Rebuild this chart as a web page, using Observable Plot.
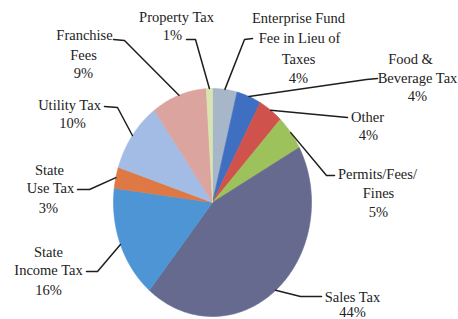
<!DOCTYPE html>
<html>
<head>
<meta charset="utf-8">
<script src="https://cdn.jsdelivr.net/npm/d3@7"></script>
<script src="https://cdn.jsdelivr.net/npm/@observablehq/plot@0.6"></script>
<style>
  html, body { margin: 0; padding: 0; background: #fff; }
  #chart svg { display: block; }
  #chart svg text { font-family: "Liberation Serif", "Times New Roman", serif !important; }
</style>
</head>
<body>
<div id="chart"></div>
<script>
// ---- data (clockwise from 12 o'clock) ----
const categories = [
  "Enterprise Fund Fee in Lieu of Taxes",
  "Food & Beverage Tax",
  "Other",
  "Permits/Fees/Fines",
  "Sales Tax",
  "State Income Tax",
  "State Use Tax",
  "Utility Tax",
  "Franchise Fees",
  "Property Tax"
];
const values = [4, 4, 4, 5, 44, 16, 3, 10, 9, 1];
const labelLines = [
  ["Enterprise Fund", "Fee in Lieu of", "Taxes"],
  ["Food &", "Beverage Tax"],
  ["Other"],
  ["Permits/Fees/", "Fines"],
  ["Sales Tax"],
  ["State", "Income Tax"],
  ["State", "Use Tax"],
  ["Utility Tax"],
  ["Franchise", "Fees"],
  ["Property Tax"]
];

// ---- styling / layout (pixels) ----
const colors = ["#a8b6ca", "#3f6fc1", "#cf524c", "#9dc15b", "#666a8f",
                "#4e95d5", "#de7945", "#a3bce6", "#dca49f", "#d8e5ae"];
const W = 458, H = 319;
const cx = 212, cy = 202, rx = 99, ry = 114;
const textPos = [
  [[298, 22], [299, 42], [298, 63], [298, 82]],
  [[410, 63], [417, 82], [417, 100]],
  [[367, 121], [368, 139]],
  [[377, 178], [378, 197], [378, 216]],
  [[352, 301], [352, 316]],
  [[48, 256], [48, 274], [48, 294]],
  [[49, 174], [50, 192], [48, 212]],
  [[69, 109], [72, 127]],
  [[84, 39], [83, 59], [83, 77]],
  [[176, 21], [172, 39]]
];
const leaderPath = [
  [[252, 38], [244, 39]],
  [[377, 78], [366, 79]],
  [[347, 117]],
  [[334, 175], [326, 175]],
  [[321, 296], [300, 296]],
  [[86, 271], [97, 271]],
  [[77, 189], [89, 189]],
  [[104, 106], [117, 107]],
  [[113, 39], [124, 40]],
  [[186, 39], [195, 39]]
];

const nx = px => (px - cx) / rx;
const ny = py => (cy - py) / ry;

const total = d3.sum(values);
const slicePts = [];
const mids = [];
let acc = 0;
values.forEach((v, i) => {
  const a0 = acc / total * 2 * Math.PI;
  acc += v;
  const a1 = acc / total * 2 * Math.PI;
  mids.push((a0 + a1) / 2);
  slicePts.push({cat: categories[i], x: 0, y: 0});
  const n = Math.max(2, Math.ceil((a1 - a0) / (Math.PI / 180)));
  for (let k = 0; k <= n; k++) {
    const a = a0 + (a1 - a0) * k / n;
    slicePts.push({cat: categories[i], x: Math.sin(a), y: Math.cos(a)});
  }
  slicePts.push({cat: categories[i], x: 0, y: 0});
});

const textRows = [];
categories.forEach((c, i) => {
  const lines = [...labelLines[i], `${values[i]}%`];
  lines.forEach((t, j) => {
    const [px, py] = textPos[i][j];
    textRows.push({text: t, x: nx(px), y: ny(py)});
  });
});

const leaderRows = [];
categories.forEach((c, i) => {
  leaderPath[i].forEach(([px, py]) => leaderRows.push({cat: c, x: nx(px), y: ny(py)}));
  leaderRows.push({cat: c, x: Math.sin(mids[i]), y: Math.cos(mids[i])});
});

const chart = Plot.plot({
  width: W,
  height: H,
  margin: 0,
  x: {domain: [-1, 1], range: [cx - rx, cx + rx], axis: null},
  y: {domain: [-1, 1], range: [cy + ry, cy - ry], axis: null},
  color: {domain: categories, range: colors},
  style: {background: "#fff"},
  marks: [
    Plot.line(slicePts, {x: "x", y: "y", z: "cat", fill: "cat", stroke: "cat", strokeWidth: 0.6, curve: "linear"}),
    Plot.line(leaderRows, {x: "x", y: "y", z: "cat", stroke: "#1e1e1e", strokeWidth: 1.5, curve: "linear"}),
    Plot.text(textRows, {
      x: "x", y: "y", text: "text",
      textAnchor: "middle", lineAnchor: "bottom",
      fontSize: 14.5, fill: "#222"
    })
  ]
});
document.getElementById("chart").appendChild(chart);
</script>
</body>
</html>
